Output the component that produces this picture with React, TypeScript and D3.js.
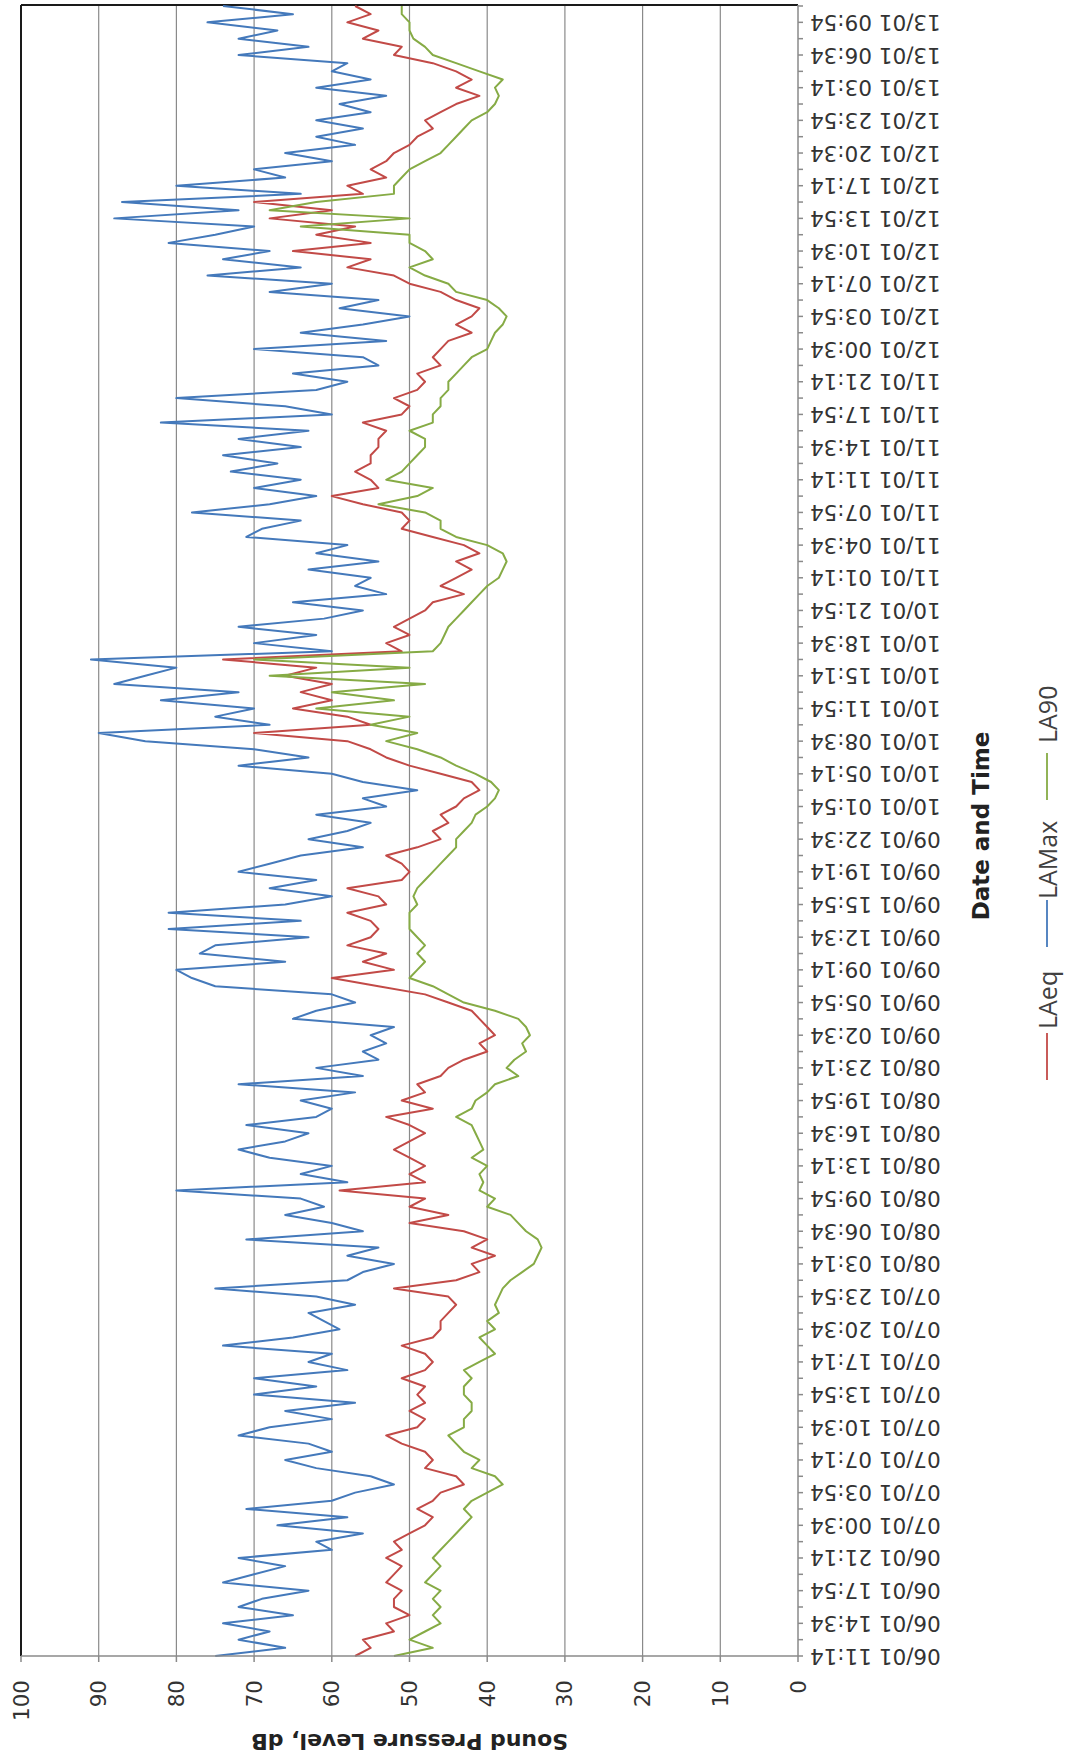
import React from "react";
import * as d3 from "d3";

// category labels, one every 200 minutes
const dateLabels = [
  "06/01 11:14", "06/01 14:34", "06/01 17:54", "06/01 21:14",
  "07/01 00:34", "07/01 03:54", "07/01 07:14", "07/01 10:34", "07/01 13:54", "07/01 17:14", "07/01 20:34", "07/01 23:54",
  "08/01 03:14", "08/01 06:34", "08/01 09:54", "08/01 13:14", "08/01 16:34", "08/01 19:54", "08/01 23:14",
  "09/01 02:34", "09/01 05:54", "09/01 09:14", "09/01 12:34", "09/01 15:54", "09/01 19:14", "09/01 22:34",
  "10/01 01:54", "10/01 05:14", "10/01 08:34", "10/01 11:54", "10/01 15:14", "10/01 18:34", "10/01 21:54",
  "11/01 01:14", "11/01 04:34", "11/01 07:54", "11/01 11:14", "11/01 14:34", "11/01 17:54", "11/01 21:14",
  "12/01 00:34", "12/01 03:54", "12/01 07:14", "12/01 10:34", "12/01 13:54", "12/01 17:14", "12/01 20:34", "12/01 23:54",
  "13/01 03:14", "13/01 06:34", "13/01 09:54",
];
const labelStep = 200; // minutes
const sampleStep = 50; // minutes between samples below
const lastMinute = 10100;

const laEq = [
  57, 55, 56, 52, 53, 50, 52, 52, 51, 53,
  52, 51, 53, 51, 52, 50, 48, 47, 49, 47,
  46, 43, 44, 48, 47, 48, 51, 53, 49, 48,
  50, 48, 49, 48, 51, 48, 47, 48, 51, 47,
  46, 46, 45, 44, 45, 52, 44, 41, 42, 39,
  42, 40, 43, 50, 45, 50, 48, 59, 48, 50,
  48, 50, 52, 50, 48, 50, 53, 47, 51, 48,
  49, 46, 45, 43, 40, 41, 39, 40, 41, 42,
  45, 48, 54, 60, 52, 56, 53, 58, 55, 54,
  55, 58, 53, 54, 58, 51, 50, 51, 53, 49,
  46, 47, 45, 46, 44, 43, 41, 42, 46, 50,
  53, 55, 58, 70, 55, 58, 65, 60, 64, 60,
  66, 62, 74, 51, 53, 50, 52, 50, 48, 47,
  43, 46, 44, 42, 44, 41, 43, 47, 51, 50,
  51, 56, 60, 54, 55, 57, 55, 55, 54, 54,
  53, 56, 51, 50, 52, 49, 48, 49, 46, 47,
  46, 45, 42, 44, 42, 41, 44, 46, 50, 52,
  58, 55, 65, 55, 62, 57, 68, 60, 70, 56,
  58, 53, 55, 53, 52, 50, 49, 47, 48, 46,
  44, 41, 44, 42, 44, 47, 52, 51, 56, 54,
  58, 55, 57,
];

const laMax = [
  75, 66, 72, 68, 74, 65, 72, 69, 63, 74,
  70, 66, 72, 60, 62, 56, 67, 58, 71, 60,
  57, 52, 55, 62, 66, 60, 63, 72, 68, 60,
  66, 57, 70, 62, 70, 58, 63, 60, 74, 65,
  59, 61, 63, 57, 62, 75, 58, 56, 52, 58,
  54, 71, 56, 60, 66, 61, 64, 80, 58, 64,
  60, 68, 72, 66, 63, 71, 62, 60, 64, 57,
  72, 56, 62, 54, 56, 53, 55, 52, 65, 62,
  57, 60, 75, 78, 80, 66, 77, 75, 63, 81,
  64, 81, 66, 60, 68, 62, 72, 68, 64, 56,
  63, 58, 55, 62, 53, 56, 49, 56, 60, 72,
  63, 70, 84, 90, 68, 75, 70, 82, 72, 88,
  84, 80, 91, 60, 70, 62, 72, 61, 56, 65,
  53, 57, 55, 63, 54, 62, 58, 71, 69, 64,
  78, 68, 62, 70, 64, 73, 67, 74, 64, 72,
  63, 82, 60, 66, 80, 62, 58, 65, 54, 56,
  70, 53, 64, 56, 50, 59, 54, 68, 60, 76,
  64, 74, 68, 81, 75, 70, 88, 72, 87, 64,
  80, 66, 70, 60, 66, 57, 62, 56, 62, 55,
  59, 53, 62, 55, 60, 58, 72, 63, 72, 67,
  76, 65, 74,
];

const la90 = [
  52, 47, 50, 48, 46, 47, 46, 47, 46, 48,
  47, 46, 47, 46, 45, 44, 43, 42, 43, 42,
  40, 38, 39, 42, 41, 43, 44, 45, 43, 43,
  42, 42, 43, 43, 42, 43, 41, 39, 40, 41,
  39, 40, 38.5, 39, 38.5, 38, 37, 35.5, 34, 33.5,
  33, 33.5, 35, 36, 37, 40, 39, 41, 40.5, 41,
  40, 42, 40.5, 41, 41.5, 42, 44, 42, 41.5, 40,
  39, 36, 37.5, 36.5, 35, 35.5, 34.5, 35, 36, 39,
  43, 45, 47, 50, 49, 48, 49, 48, 49, 50,
  50, 50, 49, 49.5, 49, 48, 47, 46, 45, 44,
  44, 43, 42, 41.5, 40, 39, 38.5, 39.5, 41.5, 44,
  46, 49, 53, 49, 55, 50, 62, 52, 60, 48,
  68, 50, 70, 47, 46, 45.5, 45, 44, 43, 42,
  41, 40, 38.5, 38, 37.5, 38, 40, 44, 46, 46,
  48, 54, 49, 47, 53, 51, 50, 49, 48, 48,
  50, 47, 47, 46, 46, 45, 45, 44, 43, 42,
  40, 39.5, 39, 38, 37.5, 38.5, 40, 44, 45, 48,
  50, 47, 48, 50, 50, 64, 50, 68, 62, 52,
  52, 51, 50, 48, 46, 45, 44, 43, 42, 40,
  39, 38.5, 39, 38, 41, 44, 47, 48, 49.5, 50,
  50, 51, 51,
];

const seriesNames = ["LAeq", "LAMax", "LA90"];
const seriesValues = [laEq, laMax, la90];
const seriesColors = ["#C24A47", "#4479BB", "#86AB45"];
const valueTicks = [0, 10, 20, 30, 40, 50, 60, 70, 80, 90, 100];

// the chart is laid out landscape and then turned a quarter turn
const W = 1760;
const H = 1065;

export default function App() {
  const x = d3.scaleLinear().domain([0, lastMinute]).range([104, 1754]);
  const y = d3.scaleLinear().domain([0, 100]).range([798, 21]);

  const line = d3
    .line<number>()
    .x((d, i) => x(i * sampleStep))
    .y((d) => y(d));

  const minorTicks = d3.range(0, lastMinute + 1, labelStep / 2);
  const legendPos = [
    { x1: 680, tx: 731 },
    { x1: 813, tx: 861 },
    { x1: 960, tx: 1017 },
  ];

  return (
    <svg
      width={H}
      height={W}
      style={{ position: "absolute", left: 0, top: 0, background: "#fff" }}
    >
      <rect width={H} height={W} fill="#fff" />
      <g transform={`translate(0,${W}) rotate(-90)`}>
        {/* gridlines */}
        {valueTicks
          .filter((v) => v > 0 && v < 100)
          .map((v) => (
            <line
              key={"g" + v}
              x1={x(0)}
              x2={1755}
              y1={y(v)}
              y2={y(v)}
              stroke="#8a8a8a"
              strokeWidth={1.2}
            />
          ))}

        {/* plot border (top and far end) */}
        <line x1={x(0)} x2={1755} y1={y(100)} y2={y(100)} stroke="#1a1a1a" strokeWidth={2} />
        <line x1={1755} x2={1755} y1={y(100)} y2={y(0)} stroke="#1a1a1a" strokeWidth={2} />

        {/* series */}
        {seriesValues.map((vals, k) => (
          <path
            key={seriesNames[k]}
            d={line(vals) || ""}
            fill="none"
            stroke={seriesColors[k]}
            strokeWidth={2}
            strokeLinejoin="round"
          />
        ))}

        {/* value axis */}
        <line x1={x(0)} x2={x(0)} y1={y(0)} y2={y(100)} stroke="#8a8a8a" strokeWidth={1.5} />
        {valueTicks.map((v) => (
          <g key={"v" + v}>
            <line x1={x(0) - 6} x2={x(0)} y1={y(v)} y2={y(v)} stroke="#8a8a8a" strokeWidth={1.5} />
            <text
              x={80}
              y={y(v)}
              textAnchor="end"
              dominantBaseline="central"
              fontFamily="DejaVu Sans, Verdana, sans-serif"
              fontSize={21.5}
              fill="#333"
            >
              {v}
            </text>
          </g>
        ))}

        {/* category axis */}
        <line x1={x(0)} x2={1755} y1={y(0)} y2={y(0)} stroke="#8a8a8a" strokeWidth={1.5} />
        {minorTicks.map((t) => (
          <line
            key={"t" + t}
            x1={x(t)}
            x2={x(t)}
            y1={y(0)}
            y2={y(0) + 5}
            stroke="#8a8a8a"
            strokeWidth={1.5}
          />
        ))}
        {dateLabels.map((lab, k) => (
          <text
            key={lab}
            transform={`translate(${x(k * labelStep)},810) rotate(-90)`}
            textAnchor="end"
            dominantBaseline="central"
            fontFamily="DejaVu Sans, Verdana, sans-serif"
            fontSize={21.5}
            fill="#333"
          >
            {lab}
          </text>
        ))}

        {/* axis titles */}
        <text
          transform={`translate(19,${(y(0) + y(100)) / 2}) rotate(-90)`}
          textAnchor="middle"
          dominantBaseline="central"
          fontFamily="DejaVu Sans, Verdana, sans-serif"
          fontWeight="bold"
          fontSize={22}
          fill="#222"
        >
          Sound Pressure Level, dB
        </text>
        <text
          x={934}
          y={981}
          textAnchor="middle"
          dominantBaseline="central"
          fontFamily="DejaVu Sans, Verdana, sans-serif"
          fontWeight="bold"
          fontSize={23}
          fill="#222"
        >
          Date and Time
        </text>

        {/* legend */}
        {seriesNames.map((name, k) => (
          <g key={"l" + name}>
            <line
              x1={legendPos[k].x1}
              x2={legendPos[k].x1 + 47}
              y1={1047}
              y2={1047}
              stroke={seriesColors[k]}
              strokeWidth={1.8}
            />
            <text
              x={legendPos[k].tx}
              y={1047}
              dominantBaseline="central"
              fontFamily="Open Sans, sans-serif"
              fontSize={25}
              fill="#404040"
            >
              {name}
            </text>
          </g>
        ))}
      </g>
    </svg>
  );
}
